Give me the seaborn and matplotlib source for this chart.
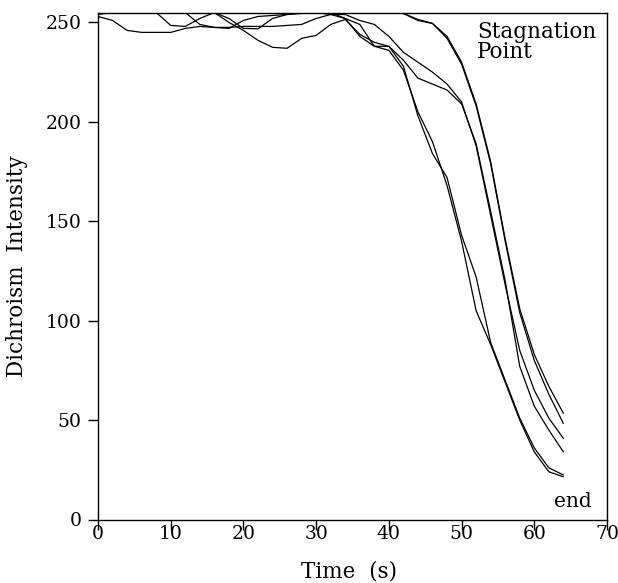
import numpy as np
import pandas as pd
import matplotlib
matplotlib.use("Agg")
import matplotlib.pyplot as plt
import seaborn as sns

# time samples (s)
time_s = list(range(0, 65, 2))

# dichroism intensity of six runs
run_late_a = [255] * 21 + [254.5, 251, 249.5, 243, 230, 209, 180, 141, 106, 83, 67, 53.4]
run_late_b = [254] + [255] * 20 + [254.5, 251.5, 249.5, 242, 229, 208, 179, 140, 104, 80, 63, 48.3]
run_early_a = [253, 251, 246, 245, 245, 245, 247, 248, 247.5, 247, 251, 253, 253.5, 254, 254.5, 255, 255, 252,
               243, 238, 238, 228, 203, 184, 172, 143, 122, 89, 70, 51, 36, 26, 22.4]
run_early_b = [255, 255, 255, 255, 255, 248.5, 248, 252, 255, 252, 247, 246.8, 252, 254, 255, 255, 254, 252,
               249, 238, 236, 226, 205, 190, 168, 140, 105, 88, 69, 50, 34, 24, 21.5]
run_mid_a = [255, 255, 255, 255, 255, 255, 255, 249, 247.5, 247.5, 248, 248, 248, 248.5, 249, 252, 254, 254,
             251, 249, 243, 235, 230, 225, 219, 210, 188, 153, 118, 85, 65, 51, 40.8]
run_mid_b = [255] * 9 + [250, 246, 241, 237.5, 237, 242, 243.5, 249, 251.5,
                         244, 240, 238, 231, 222, 219, 216, 209, 189, 155, 120, 77, 57, 45, 34]

runs = {
    "late_a": run_late_a, "late_b": run_late_b,
    "early_a": run_early_a, "early_b": run_early_b,
    "mid_a": run_mid_a, "mid_b": run_mid_b,
}

frames = []
for name, vals in runs.items():
    frames.append(pd.DataFrame({"t": time_s, "v": vals, "run": name}))
df = pd.concat(frames, ignore_index=True)

sns.set_style("ticks")
plt.rcParams["font.family"] = ["DejaVu Serif"]
plt.rcParams["text.color"] = "black"
plt.rcParams["axes.labelcolor"] = "black"

fig = plt.figure(figsize=(6.18, 5.83), dpi=100)
ax = fig.add_axes([98 / 618, 1 - 519.5 / 583, 509 / 618, 507 / 583])

sns.lineplot(data=df, x="t", y="v", units="run", estimator=None,
             color="black", linewidth=0.9, ax=ax, legend=False)

ax.set_xlim(0, 70)
ax.set_ylim(0, 255)
ax.set_xticks(range(0, 71, 10))
ax.set_yticks(range(0, 251, 50))
for s in ax.spines.values():
    s.set_visible(True)
    s.set_linewidth(1.0)
    s.set_color("black")
ax.tick_params(axis="both", direction="out", length=7, width=1.0, colors="black",
               labelcolor="black", labelsize=13.5)
ax.tick_params(axis="x", pad=-3)
ax.tick_params(axis="y", pad=5)

ax.set_xlabel("Time  (s)", fontsize=15.5, color="black")
ax.set_ylabel("Dichroism  Intensity", fontsize=15.5, color="black")
ax.xaxis.set_label_coords(0.493, -0.08)
ax.yaxis.set_label_coords(-0.1375, 0.5)

ax.text((477 - 98) / 509, (519.5 - 21) / 507, "Stagnation\nPoint", transform=ax.transAxes,
        ha="left", va="top", fontsize=15.5, linespacing=0.9, color="black")
ax.text((592 - 98) / 509, (519.5 - 507) / 507, "end", transform=ax.transAxes,
        ha="right", va="baseline", fontsize=14.5, color="black")

fig.savefig("out.png", dpi=100, facecolor="white")
